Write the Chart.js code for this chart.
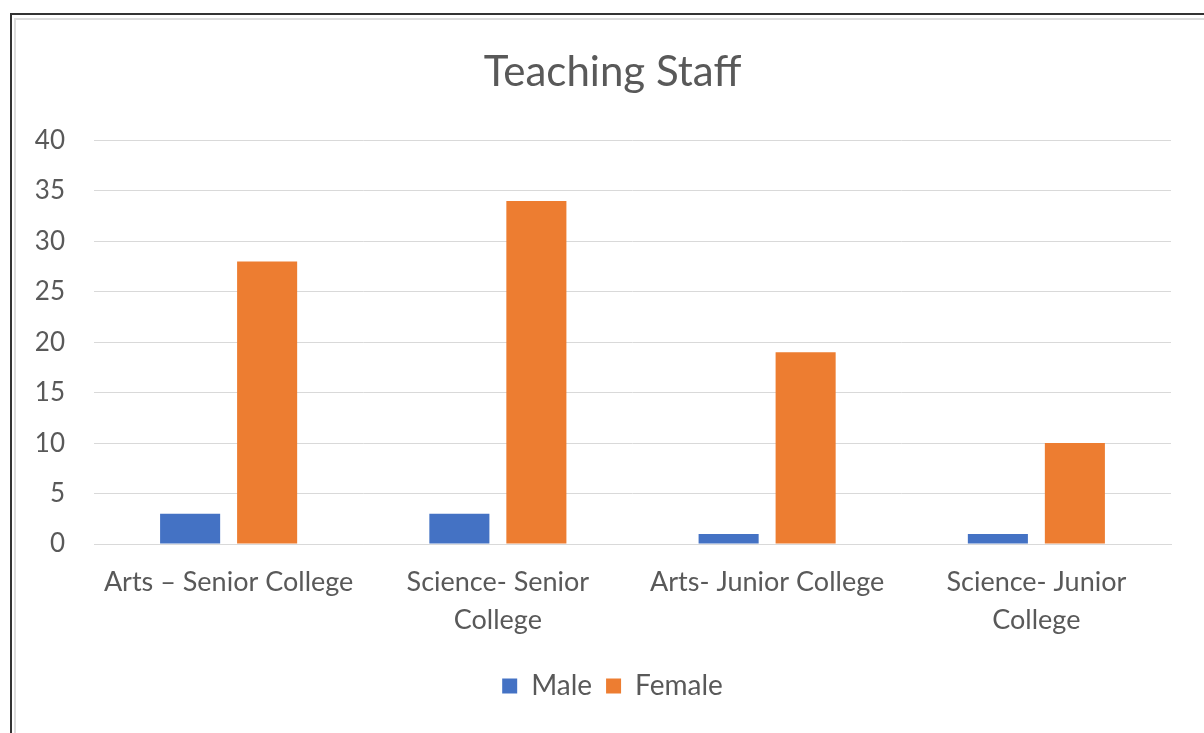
<!DOCTYPE html>
<html lang="en">
<head>
  <meta charset="UTF-8">
  <title>Teaching Staff</title>
  <script src="https://cdn.jsdelivr.net/npm/chart.js"></script>
  <style>
    body {
      margin: 0;
      background: #fff;
      overflow: hidden;
    }
    .frame {
      position: absolute;
      left: 10px;
      top: 13px;
      width: 1200px;
      height: 730px;
      border-top: 2px solid #333;
      border-left: 2px solid #333;
    }
    .inner {
      position: absolute;
      left: 2px;
      top: 3px;
      width: 1189px;
      height: 730px;
      border-top: 2px solid #ddd;
      border-left: 2px solid #ddd;
      border-right: 2px solid #ececec;
    }
    canvas {
      display: block;
    }
  </style>
</head>
<body>
  <div class="frame">
    <div class="inner">
      <canvas id="staffChart" width="1189" height="715"></canvas>
    </div>
  </div>

  <script>
    // chart data
    const categories = [
      ['Arts \u2013 Senior College'],
      ['Science- Senior', 'College'],
      ['Arts- Junior College'],
      ['Science- Junior', 'College']
    ];
    const maleCounts = [3, 3, 1, 1];
    const femaleCounts = [28, 34, 19, 10];

    const textColor = '#595959';
    const gridColor = '#d9d9d9';

    // y labels sit in the left padding, so widen the label clip box after layout
    const yLabelRoom = {
      id: 'yLabelRoom',
      afterLayout(chart) {
        chart.scales.y.left = 0;
      }
    };

    const ctx = document.getElementById('staffChart').getContext('2d');
    new Chart(ctx, {
      type: 'bar',
      data: {
        labels: categories,
        datasets: [
          {
            label: 'Male',
            data: maleCounts,
            backgroundColor: '#4472C4',
            categoryPercentage: 0.572,
            barPercentage: 0.78
          },
          {
            label: 'Female',
            data: femaleCounts,
            backgroundColor: '#ED7D31',
            categoryPercentage: 0.572,
            barPercentage: 0.78
          }
        ]
      },
      plugins: [yLabelRoom],
      options: {
        responsive: false,
        animation: false,
        layout: {
          // extra left padding keeps title/legend centred like the original
          padding: { left: 38, right: 34, top: 20, bottom: 25 }
        },
        plugins: {
          title: {
            display: true,
            text: 'Teaching Staff',
            color: textColor,
            font: { family: 'Lato', size: 42, weight: 'normal' },
            padding: { top: 7, bottom: 43 }
          },
          legend: {
            position: 'bottom',
            labels: {
              color: textColor,
              font: { family: 'Lato', size: 28 },
              boxWidth: 15,
              boxHeight: 15,
              padding: 14
            }
          },
          tooltip: { enabled: false }
        },
        scales: {
          x: {
            grid: { display: false, drawTicks: false },
            border: { display: true, color: gridColor, width: 1 },
            ticks: {
              color: textColor,
              font: { family: 'Lato', size: 27, lineHeight: 1.407 },
              padding: 19,
              maxRotation: 0
            }
          },
          y: {
            min: 0,
            max: 40,
            ticks: {
              stepSize: 5,
              color: textColor,
              font: { family: 'Lato', size: 26 },
              padding: 29
            },
            grid: { color: gridColor, drawTicks: false },
            border: { display: false },
            afterFit: function (scale) {
              scale.width = 40;
            }
          }
        }
      }
    });
  </script>
</body>
</html>
